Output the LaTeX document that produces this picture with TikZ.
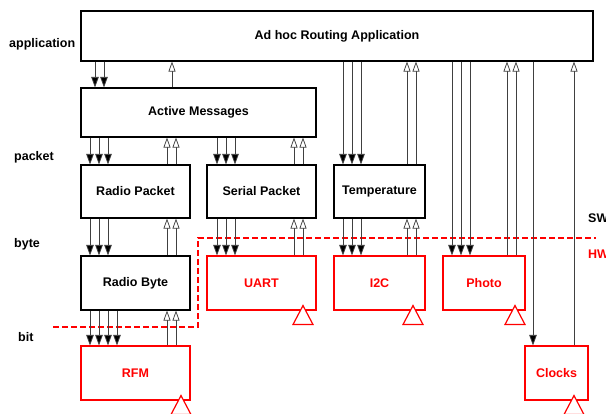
\documentclass[tikz,border=0pt]{standalone}
\usepackage{fontspec}
\setmainfont{Liberation Sans}
\usetikzlibrary{arrows.meta,calc}
\definecolor{hwred}{RGB}{255,0,0}
\newcommand\dnlink[3]{\foreach \xx in {#3}{\draw[dnarr] (#1.south -| \xx,0) -- (#2.north -| \xx,0);}}
\newcommand\uplink[3]{\foreach \xx in {#3}{\draw[uparr] (#1.north -| \xx,0) -- (#2.south -| \xx,0);}}
\newcommand\gndtri[2]{\draw[gnd] ($(#1.south -| #2,0)+(0,-5)$) -- ++(-10,19) -- ++(20,0) -- cycle;}
\begin{document}
\begin{tikzpicture}[x=1pt,y=-1pt,
  txt/.style={font=\bfseries\fontsize{12.5}{14}\selectfont},
  box/.style={txt, draw=black, line width=1.1pt, fill=white, inner sep=0pt},
  hwbox/.style={box, draw=hwred, text=hwred},
  lbl/.style={txt, anchor=west, inner sep=0pt},
  dnarr/.style={draw=black!75, line width=0.75pt, -{Triangle[length=10.5pt,width=7.5pt,fill=black]}},
  uparr/.style={draw=black!75, line width=0.75pt, -{Triangle[open,length=10pt,width=7pt,fill=white]}},
  gnd/.style={draw=hwred, line width=1.2pt, fill=white, line join=miter},
  swhw/.style={draw=hwred, line width=1.3pt, dash pattern=on 5.5pt off 3.5pt}
]
\useasboundingbox (0,0) rectangle (606,414);
\fill[white] (0,0) rectangle (606,414);

% SW / HW boundary
\draw[swhw] (53,327) -- (198,327) -- (198,238) -- (596,238);

% software components
\node[box, minimum width=512pt, minimum height=50pt] (app) at (337,36) {Ad hoc Routing Application};
\node[box, minimum width=235pt, minimum height=49pt] (am) at (198.5,112.5) {Active Messages};
\node[box, minimum width=109pt, minimum height=53pt] (rp) at (135.5,191.5) {Radio Packet};
\node[box, minimum width=109pt, minimum height=53pt] (sp) at (261.5,191.5) {Serial Packet};
\node[box, minimum width=91pt, minimum height=53pt] (temp) at (379.5,191.5) {Temperature};
\node[box, minimum width=109pt, minimum height=54pt] (rb) at (135.5,283) {Radio Byte};

% hardware components
\node[hwbox, minimum width=109pt, minimum height=54pt] (uart) at (261.5,283) {UART};
\node[hwbox, minimum width=91pt, minimum height=54pt] (i2c) at (379.5,283) {I2C};
\node[hwbox, minimum width=82pt, minimum height=54pt] (photo) at (484,283) {Photo};
\node[hwbox, minimum width=109pt, minimum height=54pt] (rfm) at (135.5,373) {RFM};
\node[hwbox, minimum width=63pt, minimum height=54pt] (clocks) at (556.5,373) {Clocks};

% ground triangles
\gndtri{uart}{303}
\gndtri{i2c}{413}
\gndtri{photo}{515}
\gndtri{rfm}{181}
\gndtri{clocks}{574}

% connectors
\dnlink{app}{am}{95,104}
\uplink{am}{app}{172}
\dnlink{am}{rp}{90,99,108}
\uplink{rp}{am}{167,176}
\dnlink{am}{sp}{217,226,235}
\uplink{sp}{am}{294,303}
\dnlink{app}{temp}{343,352,361}
\uplink{temp}{app}{407,416}
\dnlink{app}{photo}{452,461,470}
\uplink{photo}{app}{507,516}
\dnlink{app}{clocks}{533}
\uplink{clocks}{app}{574}
\dnlink{rp}{rb}{90,99,108}
\uplink{rb}{rp}{167,176}
\dnlink{sp}{uart}{217,226,235}
\uplink{uart}{sp}{294,303}
\dnlink{temp}{i2c}{343,352,361}
\uplink{i2c}{temp}{407,416}
\dnlink{rb}{rfm}{90,99,108,117}
\uplink{rfm}{rb}{167,176}

% layer labels
\node[lbl] (lapp) at (9,44) {application};
\node[lbl] (lpkt) at (14,157) {packet};
\node[lbl] (lbyte) at (14,244) {byte};
\node[lbl] (lbit) at (18,337) {bit};
\node[lbl] (lsw) at (588,218) {SW};
\node[lbl, text=hwred] (lhw) at (588,254) {HW};
\end{tikzpicture}
\end{document}
